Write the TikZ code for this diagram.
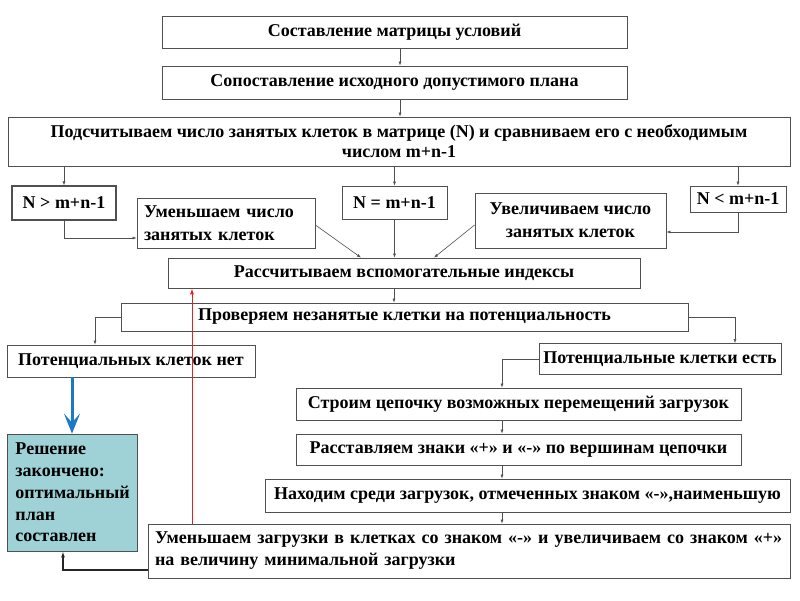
\documentclass[tikz,border=0pt]{standalone}
\usepackage{fontspec}
\setmainfont{Liberation Serif}
\usetikzlibrary{arrows.meta}
\definecolor{tealfill}{HTML}{9ED2D6}
\definecolor{bluearr}{HTML}{1E78C8}
\definecolor{redarr}{HTML}{E62020}
\definecolor{edge}{HTML}{505050}
\begin{document}
\begin{tikzpicture}[x=1pt,y=-1pt]
\tikzset{
  box/.style={draw=edge, line width=0.8pt, fill=white, inner sep=2pt, align=center,
    font=\bfseries\fontsize{18}{20}\selectfont},
  arr/.style={-{Latex[length=4pt,width=3pt]}, draw=edge, line width=0.6pt},
}
\useasboundingbox (0,0) rectangle (800,600);
\fill[white] (0,0) rectangle (800,600);

\node[box, minimum width=465pt, minimum height=32pt] (b1) at (394.5,32) {Составление матрицы условий};
\node[box, minimum width=465pt, minimum height=33pt] (b2) at (394.5,82.5) {Сопоставление исходного допустимого плана};
\node[box, minimum width=782pt, minimum height=49pt] (b3) at (399,141.5) {Подсчитываем число занятых клеток в матрице (N) и сравниваем его с необходимым\\числом m+n-1};
\node[box, minimum width=104pt, minimum height=34pt, line width=1.2pt] (b4) at (64,203) {N > m+n-1};
\node[box, minimum width=178pt, minimum height=50pt, text width=164pt, align=left,
  font=\bfseries\fontsize{18}{23}\selectfont] (b5) at (226,223) {Уменьшаем число\\занятых клеток};
\node[box, minimum width=105pt, minimum height=33pt] (b6) at (394.5,202.5) {N = m+n-1};
\node[box, minimum width=191pt, minimum height=55pt,
  font=\bfseries\fontsize{18}{23}\selectfont] (b7) at (570.5,220.5) {Увеличиваем число\\занятых клеток};
\node[box, minimum width=96pt, minimum height=26pt] (b8) at (738,199) {N < m+n-1};
\node[box, minimum width=472pt, minimum height=30pt] (b9) at (404,273) {Рассчитываем вспомогательные индексы};
\node[box, minimum width=567pt, minimum height=28pt] (b10) at (404.5,317) {Проверяем незанятые клетки на потенциальность};
\node[box, minimum width=248pt, minimum height=32pt] (b11) at (131,361) {Потенциальных клеток нет};
\node[box, minimum width=242pt, minimum height=31pt] (b12) at (660,359) {Потенциальные клетки есть};
\node[box, minimum width=445pt, minimum height=32pt] (b13) at (518.5,404) {Строим цепочку возможных перемещений загрузок};
\node[box, minimum width=445pt, minimum height=31pt] (b14) at (518.5,449.5) {Расставляем знаки «+» и «-» по вершинам цепочки};
\node[box, minimum width=525pt, minimum height=33pt] (b15) at (527.5,495.5) {Находим среди загрузок, отмеченных знаком «-»,наименьшую};
\node[box, minimum width=642pt, minimum height=54pt, text width=628pt, inner xsep=7pt, align=left,
  font=\bfseries\fontsize{18}{22}\selectfont] (b16) at (469,551) {Уменьшаем загрузки в клетках со знаком «-» и увеличиваем со знаком «+»\\на величину минимальной загрузки};
\node[box, fill=tealfill, minimum width=130pt, minimum height=117pt, text width=113pt, inner xsep=8.5pt, align=left,
  font=\bfseries\fontsize{18}{21.8}\selectfont] (b17) at (72,492.5) {Решение\\закончено:\\оптимальный\\план\\составлен};

% helper coordinates
\coordinate (c12) at (400,0);
\coordinate (c9) at (394,0);
\coordinate (cc) at (502,0);
\coordinate (rx) at (192,0);

\draw[arr] (c12 |- b1.south) -- (c12 |- b2.north);
\draw[arr] (c12 |- b2.south) -- (c12 |- b3.north);
\draw[arr] (b4.north |- b3.south) -- (b4.north);
\draw[arr] (b6.north |- b3.south) -- (b6.north);
\draw[arr] (b8.north |- b3.south) -- (b8.north);
\draw[arr] (b4.south) |- ([yshift=-15pt]b5.west);
\draw[arr] (b8.south) |- ([yshift=-11.5pt]b7.east);
\draw[arr] ([yshift=-2pt]b5.east) -- ([xshift=-43pt]b9.north);
\draw[arr] ([yshift=-4.5pt]b7.west) -- ([xshift=30pt]b9.north);
\draw[arr] (b6.south) -- (b6.south |- b9.north);
\draw[arr] (c9 |- b9.south) -- (c9 |- b10.north);
\draw[arr] (b10.west) -| ([xshift=-36pt]b11.north);
\draw[arr] (b10.east) -| ([xshift=75pt]b12.north);
\draw[arr] (b12.west) -| (cc |- b13.north);
\draw[arr] (cc |- b13.south) -- (cc |- b14.north);
\draw[arr] (cc |- b14.south) -- (cc |- b15.north);
\draw[arr] (cc |- b15.south) -- (cc |- b16.north);
\draw[bluearr, line width=3pt, -{Stealth[length=20pt,width=16pt,inset=9pt]}] (b11.south -| b17.north) -- (b17.north);
\draw[redarr, line width=1pt, -{Latex[length=6pt,width=4pt]}] (rx |- b16.north) -- (rx |- b9.south);
\draw[black!85, line width=1.8pt, -{Latex[length=6pt,width=4pt]}] ([yshift=-19pt]b16.west) -| ([xshift=-9pt]b17.south);
\end{tikzpicture}
\end{document}
